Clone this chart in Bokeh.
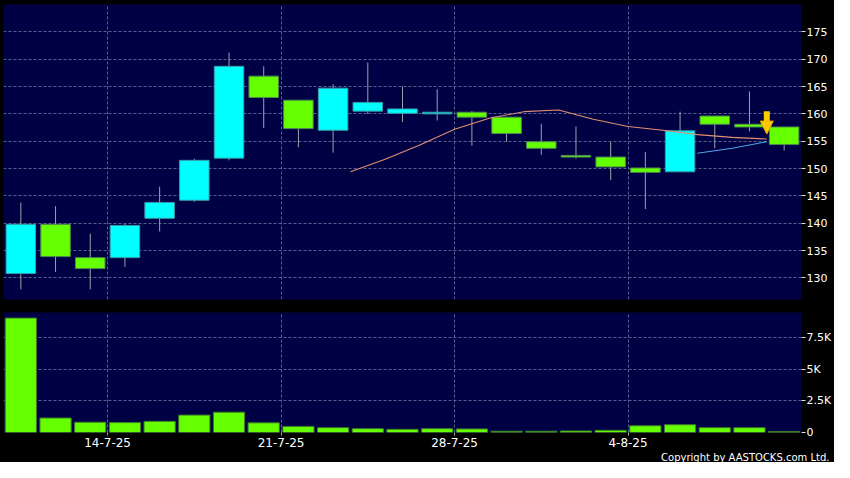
import numpy as np
from bokeh.plotting import figure
from bokeh.layouts import column
from bokeh.models import (ColumnDataSource, FixedTicker, Range1d, Arrow,
                          NormalHead, Grid, Title)
from bokeh.embed import file_html
from bokeh.resources import INLINE

# ---------------- data ----------------
dates = ["9-7-25", "10-7-25", "11-7-25", "14-7-25", "15-7-25", "16-7-25",
         "17-7-25", "18-7-25", "21-7-25", "22-7-25", "23-7-25", "24-7-25",
         "25-7-25", "28-7-25", "29-7-25", "30-7-25", "31-7-25", "1-8-25",
         "4-8-25", "5-8-25", "6-8-25", "7-8-25", "8-8-25"]
opens = [130.8, 139.8, 133.7, 133.7, 140.9, 144.2, 151.9, 166.9, 162.5, 157.0,
         160.5, 160.1, 160.0, 160.3, 159.4, 154.9, 152.4, 152.1, 150.1, 149.4,
         159.6, 158.1, 157.6]
highs = [143.8, 143.1, 138.1, 139.9, 146.7, 151.8, 171.2, 168.7, 162.5, 165.4,
         169.4, 165.0, 164.5, 160.5, 159.4, 158.2, 157.7, 154.9, 153.0, 160.4,
         159.6, 164.1, 157.6]
lows = [127.9, 131.1, 127.9, 132.0, 138.5, 143.9, 151.5, 157.4, 153.9, 152.9,
        160.0, 158.5, 158.8, 154.2, 154.9, 152.5, 151.8, 147.9, 142.6, 149.4,
        153.7, 156.8, 153.3]
closes = [139.8, 133.9, 131.7, 139.6, 143.8, 151.5, 168.7, 163.0, 157.3, 164.7,
          162.1, 160.9, 160.3, 159.4, 156.4, 153.7, 152.1, 150.3, 149.3, 156.9,
          158.1, 157.6, 154.4]
volumes = [9010, 1140, 810, 780, 880, 1370, 1600, 760, 480, 380, 300, 250,
           300, 280, 100, 100, 120, 170, 530, 610, 380, 380, 80]

ma10_start = 9
ma10 = [149.4, 151.7, 154.3, 157.2, 159.2, 160.4, 160.7, 159.0, 157.7, 157.0,
        156.2, 155.7, 155.4]
ma20_start = 19
ma20 = [152.8, 153.7, 154.9]

signal_idx = 21
signal_top = 160.5
signal_tip = 156.3

tick_labels = ["14-7-25", "21-7-25", "28-7-25", "4-8-25"]
price_ticks = [130, 135, 140, 145, 150, 155, 160, 165, 170, 175]
vol_ticks = [0, 2500, 5000, 7500]
vol_tick_labels = ["0", "2.5K", "5K", "7.5K"]
copyright_text = "Copyright by AASTOCKS.com Ltd."

# ---------------- styles ----------------
BG = "#000044"
GRID = "#55608f"
FONT = "DejaVu Sans"
UP_FILL, UP_LINE = "#00ffff", "#3a9aa6"
DN_FILL, DN_LINE = "#66ff00", "#4c8a50"

W = 834
H1 = 312
H2 = 150
BL, BR = 3, 31

idx = np.arange(len(dates))
o = np.array(opens); c = np.array(closes)
up = c >= o
src = ColumnDataSource(dict(
    x=idx, high=highs, low=lows,
    top=np.maximum(o, c), bottom=np.minimum(o, c),
    fill=[UP_FILL if u else DN_FILL for u in up],
    line=[UP_LINE if u else DN_LINE for u in up],
))
tick_pos = [dates.index(t) - 0.5 for t in tick_labels]

xr = Range1d(-0.5, len(dates) - 0.5)


def style_right_axis(ax):
    ax.axis_line_color = None
    ax.major_tick_line_color = "#dddddd"
    ax.major_tick_out = 4
    ax.major_tick_in = 0
    ax.minor_tick_line_color = None
    ax.major_label_standoff = 1
    ax.major_label_text_color = "white"
    ax.major_label_text_font = FONT
    ax.major_label_text_font_size = "11px"


# ---------------- price chart ----------------
p1 = figure(width=W, height=H1, x_range=xr, y_range=Range1d(126.05, 180.0),
            x_axis_location=None, y_axis_location="right",
            output_backend="svg", toolbar_location=None, tools="",
            min_border_left=BL, min_border_top=4, min_border_bottom=13,
            min_border_right=BR)
p1.background_fill_color = BG
p1.border_fill_color = "black"
p1.outline_line_color = None
for g in p1.xgrid:
    g.visible = False
p1.add_layout(Grid(dimension=0, ticker=FixedTicker(ticks=tick_pos),
                   grid_line_color=GRID, grid_line_dash="3 2"))
p1.ygrid.ticker = FixedTicker(ticks=price_ticks)
p1.ygrid.grid_line_color = GRID
p1.ygrid.grid_line_dash = "3 2"
p1.yaxis[0].ticker = FixedTicker(ticks=price_ticks)
style_right_axis(p1.yaxis[0])

p1.segment(x0="x", y0="low", x1="x", y1="high", source=src,
           line_color="#a0a0aa", line_width=1)
p1.vbar(x="x", width=0.85, top="top", bottom="bottom", source=src,
        fill_color="fill", line_color="line", line_width=1)

p1.line(x=np.arange(ma10_start, ma10_start + len(ma10)) + 0.5, y=ma10,
        line_color="#e09070", line_width=1.1)
p1.line(x=np.arange(ma20_start, ma20_start + len(ma20)) + 0.5, y=ma20,
        line_color="#4ea6e6", line_width=1.1)

p1.add_layout(Arrow(end=NormalHead(size=13, fill_color="#ffcc00",
                                   line_color="#e8a800", line_width=1),
                    x_start=signal_idx + 0.5, y_start=signal_top,
                    x_end=signal_idx + 0.5, y_end=signal_tip,
                    line_color="#ffcc00", line_width=6))

# ---------------- volume chart ----------------
p2 = figure(width=W, height=H2, x_range=xr, y_range=Range1d(0, 9450),
            y_axis_location="right",
            output_backend="svg", toolbar_location=None, tools="",
            min_border_left=BL, min_border_top=0, min_border_bottom=29,
            min_border_right=BR)
p2.background_fill_color = BG
p2.border_fill_color = "black"
p2.outline_line_color = None
p2.xgrid.ticker = FixedTicker(ticks=tick_pos)
p2.xgrid.grid_line_color = GRID
p2.xgrid.grid_line_dash = "3 2"
p2.ygrid.ticker = FixedTicker(ticks=vol_ticks)
p2.ygrid.grid_line_color = GRID
p2.ygrid.grid_line_dash = "3 2"

vy = p2.yaxis[0]
vy.ticker = FixedTicker(ticks=vol_ticks)
vy.major_label_overrides = {t: l for t, l in zip(vol_ticks, vol_tick_labels)}
style_right_axis(vy)

vx = p2.xaxis[0]
vx.ticker = FixedTicker(ticks=tick_pos)
vx.major_label_overrides = {t: l for t, l in zip(tick_pos, tick_labels)}
vx.axis_line_color = None
vx.major_tick_line_color = "#aaaaaa"
vx.major_tick_out = 3
vx.major_tick_in = 0
vx.minor_tick_line_color = None
vx.major_label_standoff = 2
vx.major_label_text_color = "white"
vx.major_label_text_font = FONT
vx.major_label_text_font_size = "12px"

p2.vbar(x=idx, width=0.9, top=volumes, bottom=0,
        fill_color="#66ff00", line_color="#3f7a2a", line_width=1)

p2.add_layout(Title(text=copyright_text, align="right", text_color="white",
                    text_font=FONT, text_font_size="10px",
                    text_font_style="normal", standoff=0,
                    offset=-(BR - 3)), "below")

layout = column(p1, p2, spacing=0)
layout.styles = {"background-color": "black"}
open("out.html", "w").write(file_html(layout, INLINE))
